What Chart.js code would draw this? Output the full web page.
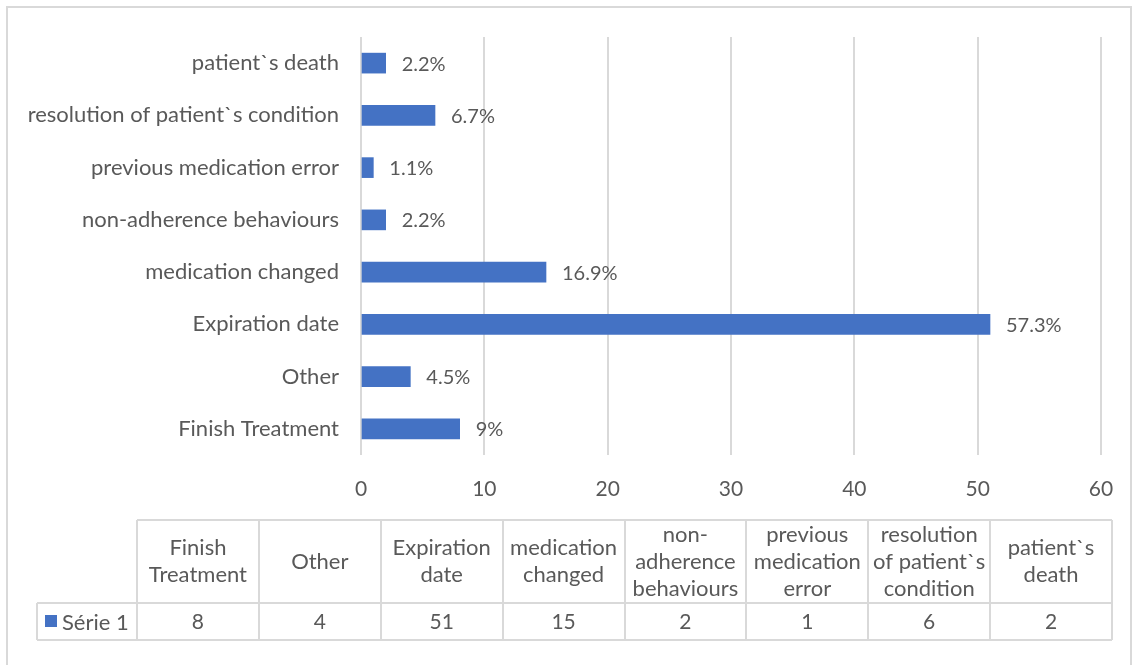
<!DOCTYPE html>
<html>
<head>
<meta charset="utf-8">
<script src="https://cdn.jsdelivr.net/npm/chart.js@4"></script>
<style>
    html, body { margin: 0; padding: 0; background: #fff; }
    #wrap { width: 1138px; height: 665px; position: relative; }
</style>
</head>
<body>
<div id="wrap"><canvas id="chart" width="1138" height="665"></canvas></div>
<script>
// --- Data ---
const categories = ['Finish Treatment', 'Other', 'Expiration date', 'medication changed',
    'non-adherence behaviours', 'previous medication error',
    'resolution of patient`s condition', 'patient`s death'];
const values = [8, 4, 51, 15, 2, 1, 6, 2];
const percentLabels = ['9%', '4.5%', '57.3%', '16.9%', '2.2%', '1.1%', '6.7%', '2.2%'];
const xTicks = [0, 10, 20, 30, 40, 50, 60];
const seriesName = 'Série 1';

const FONT = 'Lato, "Open Sans", sans-serif';
const TEXT = '#595959';
const GRID = '#d9d9d9';
const BAR = '#4472C4';

// Break header text into lines that fit a cell (split at spaces and after hyphens)
const wrapText = (ctx, text, maxW) => {
    const parts = text.replace(/-/g, '-\u0000').split(/ |\u0000/);
    const lines = [];
    let cur = '';
    parts.forEach(p => {
        const glue = cur === '' || cur.endsWith('-') ? '' : ' ';
        const test = cur + glue + p;
        if (cur !== '' && ctx.measureText(test).width > maxW) {
            lines.push(cur);
            cur = p;
        } else {
            cur = test;
        }
    });
    if (cur) lines.push(cur);
    return lines;
};

// --- Value labels next to bars ---
const barLabels = {
    id: 'barLabels',
    afterDatasetsDraw(chart) {
        const ctx = chart.ctx;
        const meta = chart.getDatasetMeta(0);
        ctx.save();
        ctx.font = '20px ' + FONT;
        ctx.fillStyle = TEXT;
        ctx.textAlign = 'left';
        ctx.textBaseline = 'middle';
        meta.data.forEach((bar, i) => {
            ctx.fillText(percentLabels[i], bar.x + 16, bar.y + 1);
        });
        ctx.restore();
    }
};

// --- Data table + outer frame ---
const dataTable = {
    id: 'dataTable',
    afterDraw(chart) {
        const ctx = chart.ctx;
        const left = 137, right = 1112, legendLeft = 37;
        const top = 520, mid = 603, bottom = 640;
        const colW = (right - left) / categories.length;

        ctx.save();
        ctx.strokeStyle = GRID;
        ctx.lineWidth = 2;

        // outer frame
        ctx.strokeRect(7, 7, 1124, 700);

        // grid of table
        ctx.beginPath();
        ctx.moveTo(left, top); ctx.lineTo(right, top);
        ctx.moveTo(legendLeft, mid); ctx.lineTo(right, mid);
        ctx.moveTo(legendLeft, bottom); ctx.lineTo(right, bottom);
        ctx.moveTo(legendLeft, mid); ctx.lineTo(legendLeft, bottom);
        for (let i = 0; i <= categories.length; i++) {
            const x = Math.round(left + i * colW);
            ctx.moveTo(x, top); ctx.lineTo(x, bottom);
        }
        ctx.stroke();

        ctx.font = '22px ' + FONT;
        ctx.fillStyle = TEXT;
        ctx.textAlign = 'center';
        ctx.textBaseline = 'middle';
        const lineH = 27;
        categories.forEach((cat, i) => {
            const cx = left + (i + 0.5) * colW;
            const lines = wrapText(ctx, cat, colW - 6);
            const startY = (top + mid) / 2 - (lines.length - 1) * lineH / 2;
            lines.forEach((ln, j) => ctx.fillText(ln, cx, startY + j * lineH));
        });
        ctx.font = '21px ' + FONT;
        categories.forEach((cat, i) => {
            const cx = left + (i + 0.5) * colW;
            ctx.fillText(String(values[i]), cx, (mid + bottom) / 2 + 1);
        });

        // legend cell
        ctx.fillStyle = BAR;
        ctx.fillRect(45, 615, 12, 12);
        ctx.fillStyle = TEXT;
        ctx.textAlign = 'left';
        ctx.font = '22px ' + FONT;
        ctx.fillText(seriesName, 62, (mid + bottom) / 2 + 1);
        ctx.restore();
    }
};

const ctx = document.getElementById('chart').getContext('2d');
new Chart(ctx, {
    type: 'bar',
    data: {
        labels: categories,
        datasets: [{
            label: seriesName,
            data: values,
            backgroundColor: BAR,
            barThickness: 20
        }]
    },
    options: {
        indexAxis: 'y',
        responsive: false,
        animation: false,
        layout: { padding: { top: 37, right: 37, bottom: 160, left: 0 } },
        scales: {
            x: {
                min: xTicks[0],
                max: xTicks[xTicks.length - 1],
                afterBuildTicks: s => { s.ticks = xTicks.map(v => ({ value: v })); },
                afterFit: s => { s.height = 50; },
                grid: { color: GRID, lineWidth: 2, drawTicks: false },
                border: { display: false },
                ticks: { color: TEXT, font: { family: FONT, size: 21 }, padding: 22 }
            },
            y: {
                reverse: true,
                afterFit: s => { s.width = 361; },
                grid: { display: false },
                border: { display: false },
                ticks: { color: TEXT, font: { family: FONT, size: 22 }, padding: 14 }
            }
        },
        plugins: {
            legend: { display: false },
            tooltip: { enabled: false }
        }
    },
    plugins: [barLabels, dataTable]
});
</script>
</body>
</html>
